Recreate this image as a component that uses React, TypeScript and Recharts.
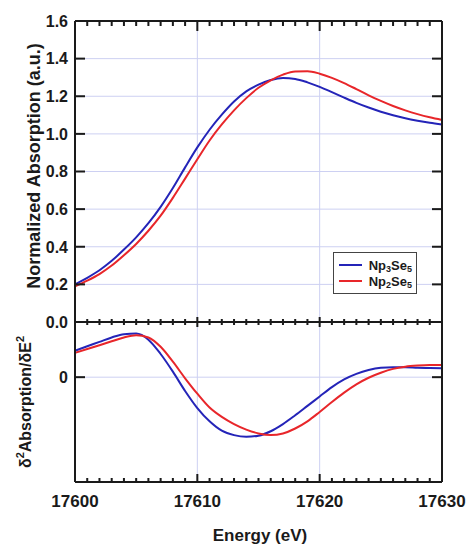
import React from "react";
import { LineChart, Line, XAxis, YAxis, ReferenceLine, Legend, Label } from "recharts";

// Np L3-edge XANES, normalized absorption and its second derivative
const energy = [
  17600, 17601, 17602, 17603, 17604, 17605, 17606, 17607, 17608, 17609, 17610,
  17611, 17612, 17613, 17614, 17615, 17616, 17617, 17618, 17619, 17620,
  17621, 17622, 17623, 17624, 17625, 17626, 17627, 17628, 17629, 17630,
];
const absNp3Se5 = [
  0.2, 0.235, 0.275, 0.325, 0.385, 0.45, 0.525, 0.612, 0.712, 0.822, 0.928,
  1.022, 1.102, 1.172, 1.226, 1.262, 1.286, 1.297, 1.292, 1.274, 1.25,
  1.222, 1.193, 1.165, 1.14, 1.118, 1.099, 1.083, 1.07, 1.059, 1.05,
];
const absNp2Se5 = [
  0.19, 0.22, 0.255, 0.3, 0.355, 0.415, 0.485, 0.565, 0.66, 0.762, 0.865,
  0.965, 1.05, 1.125, 1.19, 1.245, 1.285, 1.315, 1.332, 1.333, 1.32,
  1.298, 1.27, 1.238, 1.205, 1.175, 1.148, 1.125, 1.105, 1.088, 1.074,
];
const d2Np3Se5 = [
  0.48, 0.56, 0.64, 0.72, 0.78, 0.79, 0.68, 0.42, 0.1, -0.25, -0.56,
  -0.8, -0.97, -1.05, -1.08, -1.06, -0.98, -0.85, -0.69, -0.52, -0.35,
  -0.18, -0.04, 0.06, 0.13, 0.17, 0.18, 0.18, 0.17, 0.165, 0.16,
];
const d2Np2Se5 = [
  0.44, 0.51, 0.58, 0.65, 0.72, 0.76, 0.72, 0.55, 0.28, -0.02, -0.3,
  -0.55, -0.72, -0.85, -0.95, -1.02, -1.05, -1.02, -0.93, -0.8, -0.63,
  -0.45, -0.28, -0.13, -0.01, 0.08, 0.15, 0.19, 0.21, 0.22, 0.22,
];

const seriesNames = ["Np3Se5", "Np2Se5"];
const energyMajor = [17600, 17610, 17620, 17630];
const energyGrid = [17610, 17620];
const absTicks = [0, 0.2, 0.4, 0.6, 0.8, 1.0, 1.2, 1.4, 1.6];
const absGrid = [0.2, 0.4, 0.6, 0.8, 1.0, 1.2, 1.4];
const d2Ticks = [0];

// minor tick every eV
const energyMinor = Array.from({ length: 31 }, (_, i) => 17600 + i);

const absData = energy.map((e, i) => ({ e, np3: absNp3Se5[i], np2: absNp2Se5[i] }));
const d2Data = energy.map((e, i) => ({ e, np3: d2Np3Se5[i], np2: d2Np2Se5[i] }));

const ink = "#1a1a1a";
const blue = "#2424b8";
const red = "#e8262a";
const grid = "#cdd0f2";
const font = "'Liberation Sans', Arial, sans-serif";
const W = 467;
const xDomain: [number, number] = [17600, 17630];
const absDomain: [number, number] = [0, 1.6];
const d2Domain: [number, number] = [-1.9, 1];
const axisLine = { stroke: ink, strokeWidth: 2 };

type Dir = "down" | "up" | "right" | "left";

// tick marks are drawn as filled rects at the points of an invisible series
const tickDot = (dir: Dir, majorLen: number, minorLen: number) => (props: any) => {
  const { cx, cy, payload, index } = props;
  const len = payload.major ? majorLen : minorLen;
  let r = { x: cx - 1, y: cy, w: 2, h: len };
  if (dir === "up") r = { x: cx - 1, y: cy - len, w: 2, h: len };
  if (dir === "right") r = { x: cx, y: cy - 1, w: len, h: 2 };
  if (dir === "left") r = { x: cx - len, y: cy - 1, w: len, h: 2 };
  return <rect key={dir + index} x={r.x} y={r.y} width={r.w} height={r.h} fill={ink} />;
};

function frameTickSeries(yDom: [number, number], yTicks: number[], top: [number, number], bottom: [number, number]) {
  const topRow = energyMinor.map((e) => ({ e, v: yDom[1], major: energyMajor.includes(e) }));
  const bottomRow = energyMinor.map((e) => ({ e, v: yDom[0], major: energyMajor.includes(e) }));
  const leftCol = yTicks.map((v) => ({ e: xDomain[0], v, major: true }));
  const rightCol = yTicks.map((v) => ({ e: xDomain[1], v, major: true }));
  const common = { dataKey: "v", stroke: "none", isAnimationActive: false, activeDot: false, legendType: "none" as const };
  return [
    <Line key="tt" {...common} data={topRow} dot={tickDot("down", top[0], top[1])} />,
    <Line key="tb" {...common} data={bottomRow} dot={tickDot("up", bottom[0], bottom[1])} />,
    <Line key="tl" {...common} data={leftCol} dot={tickDot("right", 10, 10)} />,
    <Line key="tr" {...common} data={rightCol} dot={tickDot("left", 10, 10)} />,
  ];
}

const energyLabel = (props: any) => (
  <text x={props.x} y={props.y} textAnchor="middle" fontSize={17} fontWeight="bold" fontFamily={font} fill={ink}>
    {props.payload.value}
  </text>
);

const yLabel = (fmt: (v: number) => string) => (props: any) => (
  <text x={props.x} y={props.y} dy="0.36em" textAnchor="end" fontSize={16} fontWeight="bold" fontFamily={font} fill={ink}>
    {fmt(props.payload.value)}
  </text>
);

function withSubs(name: string) {
  return name.split(/(\d)/).map((part, i) =>
    /\d/.test(part) ? (
      <sub key={i} style={{ fontSize: 9, verticalAlign: "-2px", lineHeight: 0 }}>{part}</sub>
    ) : (
      <span key={i}>{part}</span>
    )
  );
}

function LegendBox() {
  const colors = [blue, red];
  return (
    <div
      style={{
        border: "1px solid #444",
        background: "#fff",
        padding: "4px 4px 4px 5px",
        fontFamily: font,
        fontWeight: "bold",
        fontSize: 13,
        color: ink,
        boxSizing: "border-box",
        width: 84,
        height: 42,
      }}
    >
      {seriesNames.map((n, i) => (
        <div key={n} style={{ display: "flex", alignItems: "center", height: 16 }}>
          <span style={{ display: "inline-block", width: 25, height: 2, background: colors[i], marginRight: 7 }} />
          <span>{withSubs(n)}</span>
        </div>
      ))}
    </div>
  );
}

export default function App() {
  return (
    <div style={{ position: "absolute", left: 0, top: 0, width: W, height: 545, background: "#fff" }}>
      <div style={{ position: "absolute", left: 0, top: 0 }}>
        <LineChart width={W} height={330} data={absData} margin={{ top: 20, right: 0, bottom: 0, left: 0 }}>
          <XAxis dataKey="e" type="number" domain={xDomain} ticks={energyMajor} height={8}
            axisLine={axisLine} tickLine={false} tick={false} allowDuplicatedCategory={false} />
          <XAxis xAxisId="t" orientation="top" dataKey="e" type="number" domain={xDomain} ticks={energyMajor} height={1}
            axisLine={axisLine} tickLine={false} tick={false} />
          <YAxis type="number" domain={absDomain} ticks={absTicks} interval={0} width={75}
            axisLine={axisLine} tickLine={false} tickSize={0} tickMargin={7} tick={yLabel((v) => v.toFixed(1))}>
            <Label
              content={() => (
                <text transform="translate(40,166) rotate(-90)" textAnchor="middle" fontSize={18} fontWeight="bold" fontFamily={font} fill={ink}>
                  Normalized Absorption (a.u.)
                </text>
              )}
            />
          </YAxis>
          <YAxis yAxisId="r" orientation="right" type="number" domain={absDomain} ticks={absTicks} width={25}
            axisLine={axisLine} tickLine={false} tick={false} />
          {absGrid.map((v) => (
            <ReferenceLine key={"h" + v} y={v} stroke={grid} strokeWidth={1} />
          ))}
          {energyGrid.map((v) => (
            <ReferenceLine key={"v" + v} x={v} stroke={grid} strokeWidth={1} />
          ))}
          <Line dataKey="np3" name={seriesNames[0]} type="monotone" stroke={blue} strokeWidth={2} dot={false} isAnimationActive={false} />
          <Line dataKey="np2" name={seriesNames[1]} type="monotone" stroke={red} strokeWidth={2} dot={false} isAnimationActive={false} />
          {frameTickSeries(absDomain, absTicks, [10, 5], [5, 3])}
          <Legend layout="vertical" align="center" verticalAlign="middle" content={() => <LegendBox />}
            wrapperStyle={{ left: 333, top: 252, width: 84, height: 42 }} />
        </LineChart>
      </div>
      <div style={{ position: "absolute", left: 0, top: 300 }}>
        <LineChart width={W} height={245} data={d2Data} margin={{ top: 21, right: 0, bottom: 0, left: 0 }}>
          <XAxis dataKey="e" type="number" domain={xDomain} ticks={energyMajor} interval={0} height={63}
            axisLine={axisLine} tickLine={false} tickSize={0} tickMargin={25} tick={energyLabel} />
          <XAxis xAxisId="t" orientation="top" dataKey="e" type="number" domain={xDomain} ticks={energyMajor} height={1}
            axisLine={axisLine} tickLine={false} tick={false} />
          <YAxis type="number" domain={d2Domain} ticks={d2Ticks} interval={0} width={75}
            axisLine={axisLine} tickLine={false} tickSize={0} tickMargin={7} tick={yLabel((v) => String(v))}>
            <Label
              content={() => (
                <text transform="translate(31,102) rotate(-90)" textAnchor="middle" fontSize={16} fontWeight="bold" fontFamily={font} fill={ink}>
                  <tspan>δ</tspan>
                  <tspan dy={-7} fontSize={11}>2</tspan>
                  <tspan dy={7}>Absorption/δE</tspan>
                  <tspan dy={-7} fontSize={11}>2</tspan>
                </text>
              )}
            />
          </YAxis>
          <YAxis yAxisId="r" orientation="right" type="number" domain={d2Domain} ticks={d2Ticks} width={25}
            axisLine={axisLine} tickLine={false} tick={false} />
          <ReferenceLine y={0} stroke={grid} strokeWidth={1} />
          {energyGrid.map((v) => (
            <ReferenceLine key={"v" + v} x={v} stroke={grid} strokeWidth={1} />
          ))}
          <Line dataKey="np3" type="monotone" stroke={blue} strokeWidth={2} dot={false} isAnimationActive={false} />
          <Line dataKey="np2" type="monotone" stroke={red} strokeWidth={2} dot={false} isAnimationActive={false} />
          {frameTickSeries(d2Domain, d2Ticks, [5, 3], [8, 4])}
          <text x={260} y={241} textAnchor="middle" fontSize={17} fontWeight="bold" fontFamily={font} fill={ink}>
            Energy (eV)
          </text>
        </LineChart>
      </div>
    </div>
  );
}
